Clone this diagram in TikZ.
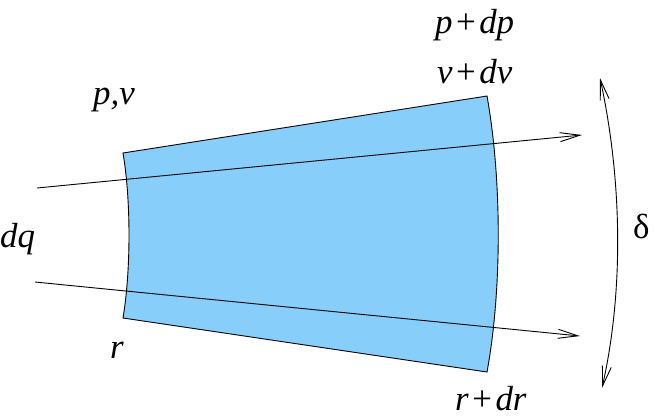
\documentclass[tikz,border=0pt]{standalone}
\usepackage{fontspec}
\setmainfont{Liberation Serif}
\usetikzlibrary{arrows.meta}
\definecolor{cellblue}{RGB}{135,206,250}
\tikzset{
  lbl/.style={anchor=base west,inner sep=0pt,font=\fontsize{35}{40}\selectfont},
  edge/.style={line width=0.9bp,black},
  flow/.style={line width=0.9bp,-{Straight Barb[length=20bp,width=9bp]}},
  span/.style={line width=0.9bp,{Straight Barb[length=20bp,width=9bp]}-{Straight Barb[length=20bp,width=9bp]}}
}
\begin{document}
\begin{tikzpicture}[x=1bp,y=-1bp]
\useasboundingbox (0,0) rectangle (654,416);
\coordinate (tl) at (123,153);
\coordinate (bl) at (123,318);
\coordinate (tr) at (487,96);
\coordinate (br) at (487,372);
\fill[cellblue] (tl) .. controls (131,200) and (131,270) .. (bl) -- (br) .. controls (502,290) and (502,180) .. (tr) -- cycle;
\draw[edge] (tl) .. controls (131,200) and (131,270) .. (bl) -- (br) .. controls (502,290) and (502,180) .. (tr) -- cycle;
\coordinate (a1) at (37,188);
\coordinate (a1e) at (582,135);
\coordinate (a2) at (35,282);
\coordinate (a2e) at (580,336);
\draw[flow] (a1) -- (a1e);
\draw[flow] (a2) -- (a2e);
\coordinate (s1) at (600,78);
\coordinate (s2) at (602,388);
\draw[span] (s1) .. controls (622,180) and (624,290) .. (s2);
\node[lbl] (pv) at (93,104) {\textit{p,v}};
\node[lbl] (pdp) at (435,33) {\textit{p}\kern3.5bp+\kern3.5bp\textit{dp}};
\node[lbl] (vdv) at (437,83) {\textit{v}\kern3.5bp+\kern3.5bp\textit{dv}};
\node[lbl] (dq) at (0,247) {\textit{dq}};
\node[lbl] (r) at (110,358) {\textit{r}};
\node[lbl] (rdr) at (455,410) {\textit{r}\kern3.5bp+\kern3.5bp\textit{dr}};
\node[lbl] (delta) at (633,238) {δ};
\end{tikzpicture}
\end{document}
